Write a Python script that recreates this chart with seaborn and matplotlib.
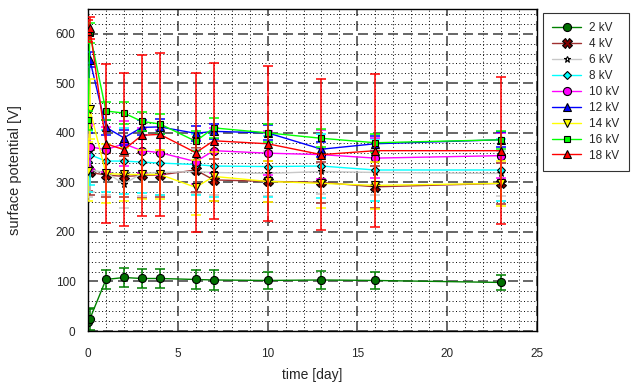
import numpy as np
import pandas as pd
import matplotlib
matplotlib.use("Agg")
import matplotlib.pyplot as plt
import seaborn as sns
from matplotlib.ticker import MultipleLocator

sns.set_style("white")
plt.rcParams['font.family'] = ['Liberation Sans', 'DejaVu Sans']

time_days = [0, 0.1, 1, 2, 3, 4, 6, 7, 10, 13, 16, 23]
series_labels = ["2 kV", "4 kV", "6 kV", "8 kV", "10 kV", "12 kV", "14 kV", "16 kV", "18 kV"]

v_2kv = [19, 24, 104, 108, 106, 106, 104, 103, 102, 103, 102, 98]
v_4kv = [328, 320, 315, 312, 314, 315, 325, 305, 302, 300, 291, 298]
v_6kv = [316, 325, 320, 297, 318, 320, 322, 320, 318, 322, 320, 318]
v_8kv = [342, 356, 343, 343, 341, 339, 336, 333, 332, 333, 325, 325]
v_10kv = [368, 372, 366, 378, 364, 360, 342, 364, 359, 356, 349, 354]
v_12kv = [415, 548, 411, 390, 411, 412, 399, 403, 400, 367, 378, 386]
v_14kv = [322, 448, 318, 316, 316, 316, 290, 312, 302, 298, 294, 298]
v_16kv = [425, 602, 444, 440, 423, 418, 383, 410, 400, 389, 380, 386]
v_18kv = [605, 612, 378, 366, 395, 397, 360, 384, 378, 356, 364, 364]

e_2kv = [25, 22, 20, 20, 20, 20, 20, 20, 18, 18, 18, 15]
e_4kv = [45, 45, 45, 42, 45, 45, 45, 42, 42, 42, 42, 42]
e_6kv = [45, 45, 45, 48, 45, 45, 45, 45, 45, 45, 45, 45]
e_8kv = [62, 62, 62, 66, 62, 64, 62, 62, 61, 65, 62, 62]
e_10kv = [45, 45, 45, 45, 45, 45, 45, 45, 45, 50, 40, 45]
e_12kv = [15, 15, 15, 15, 15, 15, 15, 15, 15, 15, 15, 15]
e_14kv = [60, 60, 60, 53, 50, 50, 55, 50, 42, 50, 47, 45]
e_16kv = [20, 20, 18, 22, 20, 20, 20, 20, 18, 18, 18, 18]
e_18kv = [22, 22, 160, 155, 162, 165, 160, 158, 156, 152, 155, 148]

values = [v_2kv, v_4kv, v_6kv, v_8kv, v_10kv, v_12kv, v_14kv, v_16kv, v_18kv]
errors = [e_2kv, e_4kv, e_6kv, e_8kv, e_10kv, e_12kv, e_14kv, e_16kv, e_18kv]

line_colors = ["#008000", "#a03030", "#c8c8c8", "#00ffff", "#ff00ff", "#0000ff", "#ffff00", "#00ff00", "#ff0000"]
face_colors = ["#007000", "#800000", "#ffffff", "#00ffff", "#ff00ff", "#0000ff", "#ffff00", "#00ff00", "#ff0000"]
markers = ["o", "X", "*", "D", "o", "^", "v", "s", "^"]
msizes = [5.8, 7, 5, 4.5, 5.8, 5.5, 5.5, 5, 5.5]

fig = plt.figure(figsize=(6.36, 3.83), dpi=100)
ax = fig.add_axes([88 / 636, 52 / 383, (537 - 88) / 636, (331 - 9) / 383])

for i, lab in enumerate(series_labels):
    df = pd.DataFrame({"time": time_days, "value": values[i]})
    cont = ax.errorbar(df["time"], df["value"], yerr=errors[i], fmt="none",
                       ecolor=line_colors[i], elinewidth=1.1, capsize=3.5, capthick=1.1,
                       zorder=2 + i)
    for coll in cont.lines[2]:
        coll.set_snap(True)
    sns.lineplot(data=df, x="time", y="value", ax=ax, color=line_colors[i],
                 marker=markers[i], markersize=msizes[i], markerfacecolor=face_colors[i],
                 markeredgecolor="black", markeredgewidth=0.8, linewidth=1,
                 label=lab, zorder=2 + i, sort=False)

ax.set_xlim(0, 25)
ax.set_ylim(0, 650)
ax.xaxis.set_major_locator(MultipleLocator(5))
ax.xaxis.set_minor_locator(MultipleLocator(1))
ax.yaxis.set_major_locator(MultipleLocator(100))
ax.yaxis.set_minor_locator(MultipleLocator(20))
ax.grid(which="major", color="0.3", linestyle=(0, (6, 3)), linewidth=1.2, zorder=0)
ax.grid(which="minor", color="black", linestyle=(0, (1, 2.5)), linewidth=0.7, zorder=0)
ax.set_axisbelow(True)
ax.tick_params(which="both", direction="in", length=0, labelsize=8.5)
ax.tick_params(axis="x", pad=12)
ax.tick_params(axis="y", pad=9)
for s in ax.spines.values():
    s.set_color("black")
    s.set_linewidth(1)

ax.set_xlabel("time [day]", fontsize=10)
ax.set_ylabel("surface potential [V]", fontsize=10.5)
ax.xaxis.set_label_coords(0.5, -0.115)
ax.yaxis.set_label_coords(-0.148, 0.5)

leg = ax.legend(loc="upper left", bbox_to_anchor=(543 / 636, 1 - 13 / 383),
                bbox_transform=fig.transFigure, frameon=True, fancybox=False,
                fontsize=8.5, handlelength=2.4, borderpad=0.8, labelspacing=0.33,
                borderaxespad=0, handletextpad=0.7)
leg.get_frame().set_edgecolor("black")
leg.get_frame().set_linewidth(0.8)

fig.savefig("out.png", dpi=100)
